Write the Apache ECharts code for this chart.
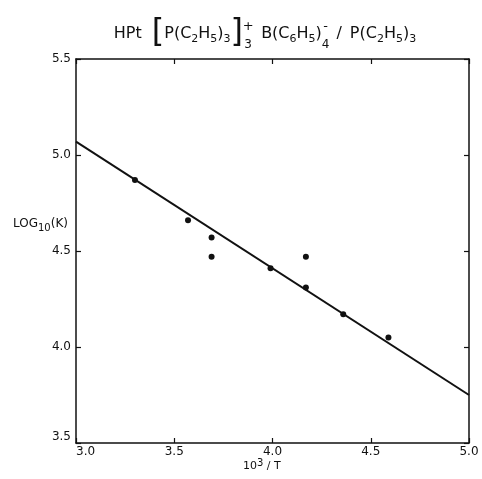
<!DOCTYPE html>
<html>
<head>
<meta charset="utf-8">
<script src="https://cdn.jsdelivr.net/npm/echarts@6/dist/echarts.min.js"></script>
<style>
  html, body { margin: 0; padding: 0; background: #fff; }
  #chart { width: 482px; height: 479px; }
</style>
</head>
<body>
<div id="chart"></div>
<script>
// axis ranges (10^3/T and log10 K)
const xRange = [3.0, 5.0];
const yRange = [3.5, 5.5];
const tickStep = 0.5;

// measured points
const pointX = [3.30, 3.57, 3.69, 3.69, 3.99, 4.17, 4.17, 4.36, 4.59];
const pointY = [4.87, 4.66, 4.57, 4.47, 4.41, 4.47, 4.31, 4.17, 4.05];

// fitted straight line, end points
const fitX = [3.0, 5.0];
const fitY = [5.07, 3.75];

const FONT = 'DejaVu Sans';
const INK = '#111';

const chart = echarts.init(document.getElementById('chart'));

const points = pointX.map((x, i) => [x, pointY[i]]);
const fitLine = fitX.map((x, i) => [x, fitY[i]]);

// title: HPt[P(C2H5)3]3+ B(C6H5)4- / P(C2H5)3, laid out piece by piece
// m = normal, s = subscript, b = big bracket, k = stacked sup/sub, g = gap
const titleParts = [
  ['m', 'HPt'], ['g', 10], ['b', '['],
  ['m', 'P(C'], ['s', '2'], ['m', 'H'], ['s', '5'], ['m', ')'], ['s', '3'],
  ['b', ']'], ['k', '+', '3'], ['g', 8],
  ['m', 'B(C'], ['s', '6'], ['m', 'H'], ['s', '5'], ['m', ')'], ['k', '-', '4'], ['g', 7],
  ['m', '/'], ['g', 8],
  ['m', 'P(C'], ['s', '2'], ['m', 'H'], ['s', '5'], ['m', ')'], ['s', '3']
];
const titleCenterX = 265;
const titleY = 34;
const partFont = { m: 16, s: 11, b: 32, k: 12 };

const ctx = document.createElement('canvas').getContext('2d');
function textWidth(t, size) {
  ctx.font = size + 'px "' + FONT + '"';
  return ctx.measureText(t).width;
}

function txt(x, y, text, opts) {
  return {
    type: 'text',
    x: x,
    y: y,
    silent: true,
    style: Object.assign({
      text: text,
      fill: INK,
      fontFamily: FONT,
      fontSize: 12,
      align: 'left',
      verticalAlign: 'middle'
    }, opts || {})
  };
}

function buildTitle() {
  const widths = titleParts.map((p) => {
    if (p[0] === 'g') return p[1];
    if (p[0] === 'k') return Math.max(textWidth(p[1], partFont.k), textWidth(p[2], partFont.k));
    return textWidth(p[1], partFont[p[0]]);
  });
  const total = widths.reduce((a, b) => a + b, 0);
  let x = titleCenterX - total / 2;
  const out = [];
  titleParts.forEach((p, i) => {
    const kind = p[0];
    if (kind === 'm') out.push(txt(x, titleY, p[1], { fontSize: partFont.m }));
    if (kind === 's') out.push(txt(x, titleY + 5, p[1], { fontSize: partFont.s }));
    if (kind === 'b') out.push(txt(x, titleY - 1, p[1], { fontSize: partFont.b }));
    if (kind === 'k') {
      out.push(txt(x + widths[i] / 2, titleY - 7, p[1], { fontSize: partFont.k + 1, align: 'center' }));
      out.push(txt(x + widths[i] / 2, titleY + 11, p[2], { fontSize: partFont.k, align: 'center' }));
    }
    x += widths[i];
  });
  return out;
}

const tickLabel = {
  fontFamily: FONT,
  fontSize: 12,
  color: INK,
  formatter: (v) => v.toFixed(1)
};

const sideAxis = {
  axisLine: { show: true, lineStyle: { color: INK, width: 1.5 } },
  axisTick: { show: true, inside: true, length: 5, lineStyle: { color: INK, width: 1.2 } },
  splitLine: { show: false }
};

const option = {
  animation: false,
  backgroundColor: '#fff',
  grid: { left: 76, right: 13, top: 59, bottom: 36 },
  xAxis: [
    Object.assign({
      type: 'value',
      position: 'bottom',
      min: xRange[0],
      max: xRange[1],
      interval: tickStep,
      axisLabel: Object.assign({ margin: 3, alignMinLabel: 'left' }, tickLabel)
    }, sideAxis),
    Object.assign({
      type: 'value',
      position: 'top',
      min: xRange[0],
      max: xRange[1],
      interval: tickStep,
      axisLabel: { show: false }
    }, sideAxis)
  ],
  yAxis: [
    Object.assign({
      type: 'value',
      position: 'left',
      min: yRange[0],
      max: yRange[1],
      interval: tickStep,
      axisLabel: Object.assign({ margin: 5, verticalAlignMinLabel: 'bottom' }, tickLabel)
    }, sideAxis),
    Object.assign({
      type: 'value',
      position: 'right',
      min: yRange[0],
      max: yRange[1],
      interval: tickStep,
      axisLabel: { show: false }
    }, sideAxis)
  ],
  series: [
    {
      type: 'line',
      data: fitLine,
      showSymbol: false,
      symbol: 'none',
      lineStyle: { color: INK, width: 2 },
      silent: true
    },
    {
      type: 'scatter',
      data: points,
      symbol: 'circle',
      symbolSize: 6,
      itemStyle: { color: INK, opacity: 1 },
      silent: true
    }
  ],
  graphic: buildTitle().concat([
    // y axis label
    txt(13, 224, '{m|LOG}{s|10}{m|(K)}', {
      rich: {
        m: { fontSize: 12, fontFamily: FONT, color: INK, lineHeight: 18, verticalAlign: 'middle' },
        s: { fontSize: 10, fontFamily: FONT, color: INK, lineHeight: 10, verticalAlign: 'bottom' }
      }
    }),
    // x axis label
    txt(243, 466, '{m|10}{p|3}{m| / T}', {
      rich: {
        m: { fontSize: 11, fontFamily: FONT, color: INK, lineHeight: 16, verticalAlign: 'middle' },
        p: { fontSize: 10, fontFamily: FONT, color: INK, lineHeight: 12, verticalAlign: 'top' }
      }
    })
  ])
};

chart.setOption(option);
</script>
</body>
</html>
